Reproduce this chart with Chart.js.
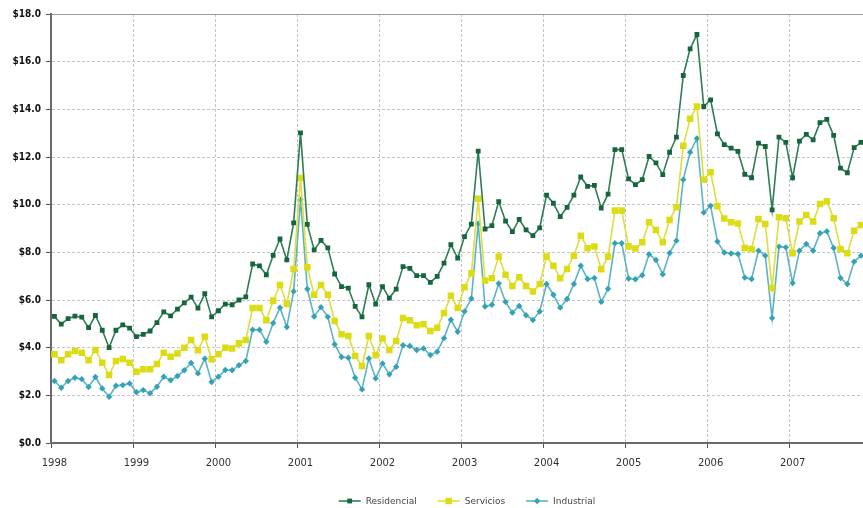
<!DOCTYPE html>
<html>
<head>
<meta charset="utf-8">
<script src="https://cdn.jsdelivr.net/npm/chart.js@4.4.0/dist/chart.umd.min.js"></script>
<style>
  html, body { margin: 0; padding: 0; background: #fff; overflow: hidden; }
  /* a bit wider than the window: the Dec 2007 column is cut off in the original */
  #wrap { width: 869px; height: 508px; position: relative; }
</style>
</head>
<body>
<div id="wrap"><canvas id="chart"></canvas></div>
<script>
// monthly, Jan 1998 .. Nov 2007
const years = ['1998','1999','2000','2001','2002','2003','2004','2005','2006','2007'];
const yTicks = [0, 2, 4, 6, 8, 10, 12, 14, 16, 18];

const residencial = [
  5.31,4.99,5.22,5.32,5.28,4.84,5.35,4.73,4.00,4.73,4.96,4.82,
  4.46,4.56,4.70,5.05,5.50,5.33,5.62,5.88,6.12,5.66,6.27,5.29,
  5.55,5.83,5.80,6.00,6.13,7.51,7.43,7.06,7.87,8.56,7.68,9.24,
  13.01,9.17,8.10,8.50,8.19,7.09,6.56,6.50,5.73,5.29,6.64,5.83,
  6.56,6.08,6.46,7.40,7.33,7.02,7.02,6.74,6.99,7.55,8.32,7.76,
  8.66,9.18,12.25,8.98,9.12,10.13,9.31,8.87,9.38,8.94,8.70,9.03,
  10.40,10.06,9.50,9.89,10.40,11.16,10.77,10.81,9.86,10.44,12.31,12.31,
  11.08,10.84,11.05,12.02,11.75,11.26,12.20,12.83,15.42,16.54,17.14,14.12,
  14.40,12.97,12.52,12.37,12.24,11.27,11.13,12.58,12.44,9.78,12.83,12.61,
  11.13,12.67,12.95,12.72,13.44,13.58,12.91,11.53,11.34,12.39,12.61
];
const servicios = [
  3.72,3.47,3.72,3.86,3.79,3.47,3.90,3.37,2.85,3.44,3.52,3.37,
  2.99,3.09,3.09,3.31,3.79,3.62,3.76,4.00,4.32,3.89,4.46,3.51,
  3.72,4.00,3.96,4.18,4.32,5.66,5.66,5.15,5.97,6.63,5.83,7.30,
  11.12,7.37,6.22,6.63,6.22,5.12,4.56,4.49,3.65,3.23,4.49,3.68,
  4.38,3.90,4.28,5.24,5.15,4.94,4.98,4.70,4.84,5.45,6.18,5.66,
  6.53,7.12,10.25,6.81,6.91,7.82,7.06,6.59,6.95,6.59,6.36,6.67,
  7.82,7.44,6.91,7.30,7.86,8.70,8.17,8.24,7.29,7.82,9.75,9.75,
  8.25,8.16,8.42,9.26,8.94,8.42,9.36,9.89,12.47,13.60,14.12,11.05,
  11.36,9.93,9.42,9.26,9.21,8.18,8.14,9.40,9.19,6.50,9.47,9.43,
  7.96,9.29,9.57,9.29,10.03,10.14,9.43,8.14,7.96,8.91,9.15
];
const industrial = [
  2.60,2.32,2.60,2.74,2.68,2.35,2.77,2.29,1.94,2.40,2.43,2.50,
  2.13,2.22,2.09,2.36,2.78,2.63,2.81,3.05,3.36,2.92,3.54,2.56,
  2.78,3.06,3.05,3.26,3.44,4.75,4.75,4.25,5.03,5.68,4.87,6.36,
  10.21,6.46,5.31,5.70,5.29,4.14,3.61,3.58,2.74,2.25,3.55,2.71,
  3.34,2.88,3.20,4.10,4.07,3.90,3.97,3.69,3.83,4.40,5.17,4.67,
  5.52,6.06,9.20,5.73,5.80,6.69,5.92,5.47,5.75,5.36,5.16,5.52,
  6.67,6.22,5.68,6.04,6.67,7.44,6.88,6.92,5.92,6.47,8.38,8.38,
  6.90,6.87,7.04,7.92,7.68,7.08,7.97,8.49,11.05,12.20,12.78,9.67,
  9.95,8.45,7.99,7.95,7.93,6.94,6.88,8.07,7.86,5.24,8.24,8.21,
  6.71,8.07,8.35,8.07,8.80,8.88,8.18,6.92,6.67,7.61,7.86
];

const labels = [];
years.forEach(y => { for (let m = 1; m <= 12; m++) labels.push(y + '-' + m); });
labels.length = residencial.length;

const FONT = '"DejaVu Sans", Verdana, sans-serif';

function series(label, data, line, fill, style, radius) {
  return {
    label, data,
    borderColor: line,
    borderWidth: 1.6,
    backgroundColor: fill,
    pointBackgroundColor: fill,
    pointBorderColor: fill,
    pointBorderWidth: 0,
    pointStyle: style,
    pointRadius: radius,
    tension: 0,
    fill: false
  };
}

// legend drawn at the bottom: line + marker + text
const lineLegend = {
  id: 'lineLegend',
  afterDraw(chart) {
    const ctx = chart.ctx;
    const sets = chart.data.datasets;
    ctx.save();
    ctx.font = '9px ' + FONT;
    const sym = 22, gap = 5, spacing = 21;
    const widths = sets.map(d => sym + gap + ctx.measureText(d.label).width);
    const total = widths.reduce((a, b) => a + b, 0) + spacing * (sets.length - 1);
    let x = 467 - total / 2;
    const y = 501;
    sets.forEach((d, i) => {
      ctx.strokeStyle = d.borderColor;
      ctx.lineWidth = 1.6;
      ctx.beginPath();
      ctx.moveTo(x, y);
      ctx.lineTo(x + sym, y);
      ctx.stroke();
      ctx.fillStyle = d.pointBackgroundColor;
      Chart.helpers.drawPoint(ctx, {pointStyle: d.pointStyle, radius: d.pointRadius, borderWidth: 0, rotation: 0}, x + sym / 2, y);
      ctx.fillStyle = '#444';
      ctx.textBaseline = 'middle';
      ctx.textAlign = 'left';
      ctx.fillText(d.label, x + sym + gap, y + 0.5);
      x += widths[i] + spacing;
    });
    ctx.restore();
  }
};

new Chart(document.getElementById('chart'), {
  type: 'line',
  data: {
    labels,
    datasets: [
      series('Residencial', residencial, '#2f7d55', '#16653c', 'rect', 3.4),
      series('Servicios', servicios, '#dede3c', '#dcdc14', 'rect', 4.6),
      series('Industrial', industrial, '#5ab4c6', '#34a2b6', 'rectRot', 3.2)
    ]
  },
  options: {
    responsive: true,
    maintainAspectRatio: false,
    animation: false,
    layout: { padding: { top: 14, right: 0, bottom: 0, left: 0 } },
    plugins: { legend: { display: false }, tooltip: { enabled: false } },
    scales: {
      x: {
        type: 'category',
        offset: true,
        afterFit: s => { s.height = 65; s.paddingLeft = 0; s.paddingRight = 0; },
        grid: {
          offset: true,
          color: c => (c.index % 12 === 0 ? '#c4c4c4' : 'rgba(0,0,0,0)'),
          tickColor: c => (c.index % 12 === 0 ? '#555' : 'rgba(0,0,0,0)'),
          tickLength: 5,
          lineWidth: 1
        },
        border: { color: '#6a6a6a', width: 2, dash: [3, 2] },
        ticks: {
          autoSkip: false,
          maxRotation: 0,
          padding: 9,
          color: '#333',
          font: { family: FONT, size: 10 },
          callback: (v, i) => (i % 12 === 0 ? years[i / 12] : '')
        }
      },
      y: {
        min: yTicks[0],
        max: yTicks[yTicks.length - 1],
        afterFit: s => { s.width = 51; },
        afterBuildTicks: s => { s.ticks = yTicks.map(v => ({ value: v })); },
        grid: {
          color: c => (c.tick && c.tick.value === 18 ? '#9a9a9a' : '#c4c4c4'),
          tickColor: '#555',
          tickLength: 5,
          lineWidth: 1
        },
        border: {
          color: '#6a6a6a', width: 2,
          dash: c => (c.tick && c.tick.value === 18 ? [] : [3, 2])
        },
        ticks: {
          padding: 5,
          color: '#111',
          font: { family: '"DejaVu Sans Condensed", "DejaVu Sans", sans-serif', size: 10, weight: 'bold' },
          callback: v => '$' + v.toFixed(1)
        }
      }
    }
  },
  plugins: [lineLegend]
});
</script>
</body>
</html>
